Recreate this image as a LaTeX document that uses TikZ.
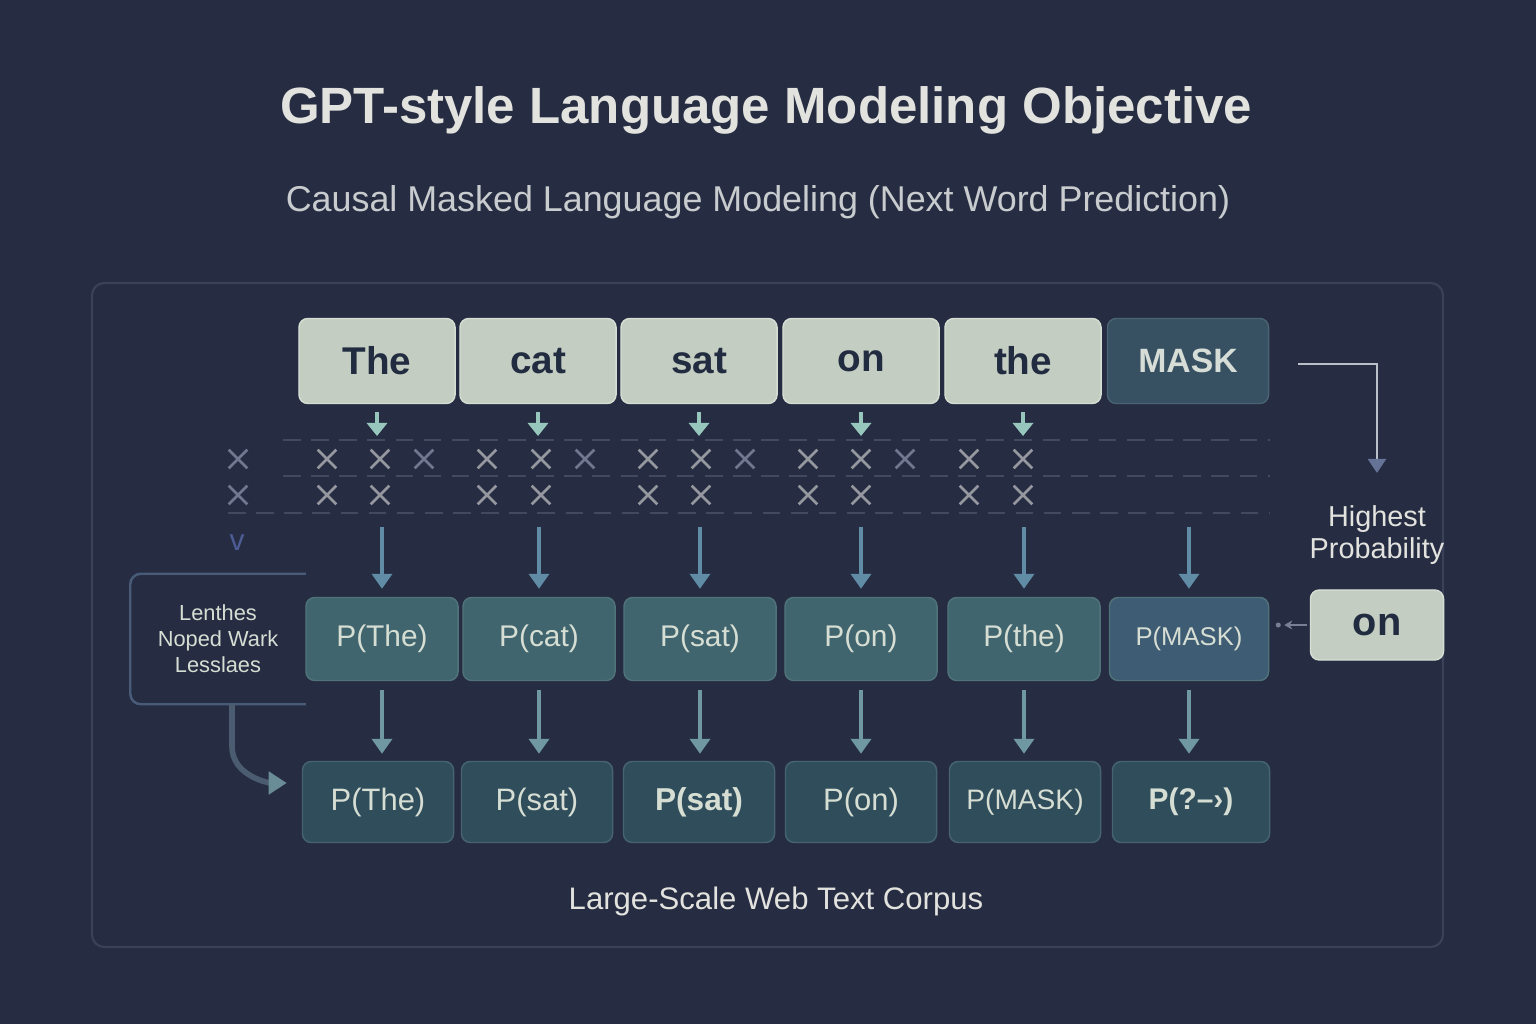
\documentclass[tikz,border=0pt]{standalone}
\usepackage{fontspec}
\setmainfont{Liberation Sans}
\usetikzlibrary{positioning,arrows.meta,shapes.misc,calc}
\definecolor{bgnavy}{RGB}{38,45,66}
\definecolor{frameline}{RGB}{58,66,90}
\definecolor{titletext}{RGB}{226,226,222}
\definecolor{subtext}{RGB}{200,204,206}
\definecolor{tokfill}{RGB}{196,205,194}
\definecolor{tokline}{RGB}{214,222,212}
\definecolor{toktext}{RGB}{34,44,64}
\definecolor{maskfill}{RGB}{55,80,98}
\definecolor{maskline}{RGB}{75,100,115}
\definecolor{masktext}{RGB}{214,220,214}
\definecolor{probfill}{RGB}{64,101,110}
\definecolor{probline}{RGB}{80,115,122}
\definecolor{pmaskfill}{RGB}{62,92,115}
\definecolor{lighttext}{RGB}{214,222,212}
\definecolor{targfill}{RGB}{47,77,91}
\definecolor{targline}{RGB}{70,100,112}
\definecolor{mintgreen}{RGB}{150,198,188}
\definecolor{steelblue}{RGB}{96,140,165}
\definecolor{tealgray}{RGB}{112,152,162}
\definecolor{xgray}{RGB}{150,152,160}
\definecolor{xdim}{RGB}{115,120,145}
\definecolor{dashgray}{RGB}{66,74,96}
\definecolor{vblue}{RGB}{78,92,150}
\definecolor{sideline}{RGB}{72,92,122}
\definecolor{curvline}{RGB}{75,92,112}
\definecolor{curvhead}{RGB}{105,140,150}
\definecolor{pickline}{RGB}{185,192,200}
\definecolor{pickhead}{RGB}{100,115,150}
\definecolor{dotgray}{RGB}{120,128,150}
\tikzset{
  tok/.style     = {rectangle, draw=tokline, rounded corners=2.5pt,
                    fill=tokfill, text=toktext,
                    minimum width=1.56cm, minimum height=0.85cm,
                    font=\fontsize{11}{13}\selectfont\bfseries},
  masktok/.style = {tok, fill=maskfill, draw=maskline, text=masktext,
                    minimum width=1.61cm, font=\fontsize{9.6}{11}\selectfont\bfseries},
  prob/.style    = {rectangle, draw=probline, rounded corners=2.5pt,
                    fill=probfill, text=lighttext,
                    minimum width=1.52cm, minimum height=0.83cm,
                    font=\fontsize{8.5}{10}\selectfont},
  pmask/.style   = {prob, fill=pmaskfill, minimum width=1.59cm,
                    font=\fontsize{7.3}{9}\selectfont},
  targ/.style    = {prob, fill=targfill, draw=targline,
                    minimum width=1.51cm, minimum height=0.81cm,
                    font=\fontsize{8.8}{10}\selectfont},
  xmark/.style   = {cross out, draw=xgray, minimum size=0.16cm,
                    inner sep=0pt, line width=0.75pt},
  xfaint/.style  = {xmark, draw=xdim},
  mintarr/.style = {-{Triangle[length=0.13cm,width=0.2cm]}, mintgreen,
                    line width=1pt, shorten <=0.08cm, shorten >=0.04cm},
  steelarr/.style= {-{Triangle[length=0.15cm,width=0.2cm]}, steelblue,
                    line width=1.1pt, shorten <=0.14cm, shorten >=0.08cm},
  downarr/.style = {-{Triangle[length=0.15cm,width=0.2cm]}, tealgray,
                    line width=1.1pt, shorten <=0.09cm, shorten >=0.07cm},
  gridline/.style= {dashgray, dashed, dash pattern=on 5pt off 3pt, line width=0.6pt}
}
\begin{document}
\begin{tikzpicture}[x=0.01cm, y=-0.01cm]
  \fill[bgnavy] (0,0) rectangle (1536,1024);
  \useasboundingbox (0,0) rectangle (1536,1024);
  \draw[frameline, line width=0.6pt, rounded corners=3.5pt] (92,283) rectangle (1443,947);

  % Headings
  \node[text=titletext, font=\fontsize{14.5}{17}\selectfont\bfseries] (ttl) at (766,110)
    {GPT-style Language Modeling Objective};
  \node[text=subtext, font=\fontsize{10.2}{12}\selectfont] (sub) at (758,202)
    {Causal Masked Language Modeling (Next Word Prediction)};

  % Input tokens
  \node[tok] (t1) at (377,361) {The};
  \node[tok] (t2) at (538,361) {cat};
  \node[tok] (t3) at (699,361) {sat};
  \node[tok] (t4) at (861,361) {on};
  \node[tok] (t5) at (1023,361) {the};
  \node[masktok] (t6) at (1188,361) {MASK};

  % Masking grid
  \coordinate (g1l) at (283,440);  \coordinate (g1r) at (1270,440);
  \coordinate (g2l) at (283,476);  \coordinate (g2r) at (1270,476);
  \coordinate (g3l) at (228,513);  \coordinate (g3r) at (1270,513);
  \draw[gridline] (g1l) -- (g1r);
  \draw[gridline] (g2l) -- (g2r);
  \draw[gridline] (g3l) -- (g3r);
  \foreach \x in {327,380,487,541,648,701,808,861,969,1023}
    \node[xmark] (xa\x) at (\x,459) {};
  \foreach \x in {238,424,585,745,905}
    \node[xfaint] (xf\x) at (\x,459) {};
  \foreach \x in {327,380,487,541,648,701,808,861,969,1023}
    \node[xmark] (xb\x) at (\x,495) {};
  \node[xfaint] (xg238) at (238,495) {};
  \node[text=vblue, font=\fontsize{8.5}{9}\selectfont] (vm) at (237,543) {v};

  % Predictions
  \node[prob] (m1) at (382,639) {P(The)};
  \node[prob] (m2) at (539,639) {P(cat)};
  \node[prob] (m3) at (700,639) {P(sat)};
  \node[prob] (m4) at (861,639) {P(on)};
  \node[prob] (m5) at (1024,639) {P(the)};
  \node[pmask] (m6) at (1189,639) {P(MASK)};

  % Targets
  \node[targ] (b1) at (378,802) {P(The)};
  \node[targ] (b2) at (537,802) {P(sat)};
  \node[targ, font=\fontsize{9}{10}\selectfont\bfseries] (b3) at (699,802) {P(sat)};
  \node[targ] (b4) at (861,802) {P(on)};
  \node[targ, font=\fontsize{8}{10}\selectfont] (b5) at (1025,802) {P(MASK)};
  \node[targ, minimum width=1.57cm, font=\fontsize{8.5}{10}\selectfont\bfseries] (b6) at (1191,802) {P(?–›)};

  \foreach \i in {1,...,5}
    \draw[mintarr] (t\i.south) -- (t\i.south |- g1l);
  \foreach \i in {1,...,6}
    \draw[steelarr] (m\i.north |- g3l) -- (m\i.north);
  \foreach \i in {1,...,6}
    \draw[downarr] (m\i.south) -- (m\i.south |- b\i.north);

  % Side note
  \node[text=lighttext, align=center, minimum width=1.74cm, minimum height=1.29cm,
        font=\fontsize{6.2}{7.4}\selectfont] (lbox) at (218,639)
    {Lenthes\\Noped Wark\\Lesslaes};
  \draw[sideline, line width=0.7pt, rounded corners=3pt]
    (lbox.north east) -- (lbox.north west) -- (lbox.south west) -- (lbox.south east);
  \draw[curvline, line width=1.6pt, -{Triangle[length=0.18cm,width=0.22cm,color=curvhead]},
        shorten >=0.15cm]
    ([xshift=0.14cm]lbox.south) -- ++(0,42) to[out=-90,in=180] ([yshift=0.19cm]b1.west);

  % Highest probability pick
  \node[text=titletext, align=center, font=\fontsize{8.2}{9.2}\selectfont] (hp) at (1377,535)
    {Highest\\Probability};
  \node[tok, minimum width=1.33cm, minimum height=0.7cm, font=\fontsize{11.3}{13}\selectfont\bfseries]
    (on) at (1377,625) {on};
  \draw[pickline, line width=0.7pt, -{Triangle[length=0.14cm,width=0.18cm,color=pickhead]},
        shorten >=0.2cm]
    ([xshift=0.29cm,yshift=-0.03cm]t6.east) -| (hp.north);
  \draw[dotgray, line width=0.8pt, -{Stealth[length=0.08cm,width=0.09cm]}, shorten <=0.03cm]
    (on.west) -- ([xshift=0.15cm]on.west -| m6.east);
  \fill[dotgray] ([xshift=0.09cm]on.west -| m6.east) circle (0.025cm);

  % Caption
  \node[text=titletext, font=\fontsize{8.85}{10}\selectfont] (cap) at (776,901)
    {Large-Scale Web Text Corpus};
\end{tikzpicture}
\end{document}
